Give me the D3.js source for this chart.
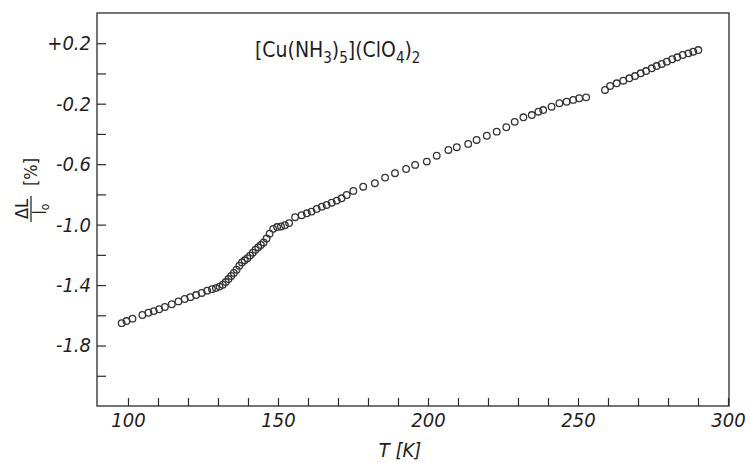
<!DOCTYPE html>
<html lang="en">
<head>
<meta charset="UTF-8">
<title>Cu(NH3)5 dilatometry</title>
<script src="https://cdn.jsdelivr.net/npm/d3@7"></script>
<style>
  body { margin: 0; background: #fff; }
  svg { display: block; }
  .lbl { font-family: "DejaVu Sans Condensed", "Liberation Sans Narrow", "Liberation Sans", sans-serif; font-style: italic; fill: #1e1e1e; }
</style>
</head>
<body>
<svg width="750" height="463"></svg>
<script>
// temperature [K] and relative length change [%]
var tempK = [97.9, 99.5, 101.5, 104.8, 106.8, 108.6, 110.4, 112.3, 114.6, 116.8, 118.9, 120.8, 122.7, 124.6,
  126.4, 128.0, 129.3, 130.5, 131.6, 132.6, 133.5, 134.4, 135.3, 136.2, 137.1, 138.0, 138.9, 139.8, 140.7,
  141.6, 142.5, 143.4, 144.3, 145.2, 146.2, 147.2, 148.4, 149.7, 151.0, 152.3, 153.7, 155.7, 157.9, 159.6,
  161.2, 162.9, 164.6, 166.2, 167.9, 169.6, 171.2, 172.9, 175.1, 178.4, 182.3, 185.7, 189.0, 192.7, 195.7,
  199.6, 202.9, 206.8, 209.6, 213.4, 216.2, 219.6, 222.9, 226.1, 228.9, 231.8, 234.6, 236.8, 238.4, 241.2,
  243.8, 246.2, 248.4, 250.4, 252.7, 259.0, 260.7, 262.9, 265.1, 267.1, 269.0, 270.9, 272.7, 274.6, 276.2,
  277.9, 279.6, 281.4, 283.1, 284.9, 286.8, 288.4, 290.1];
var dLpct = [-1.652, -1.638, -1.622, -1.598, -1.583, -1.572, -1.560, -1.545, -1.527, -1.508, -1.492, -1.480, -1.466, -1.452,
  -1.437, -1.427, -1.420, -1.410, -1.398, -1.380, -1.360, -1.340, -1.320, -1.298, -1.272, -1.250, -1.236, -1.222, -1.205,
  -1.186, -1.166, -1.150, -1.135, -1.118, -1.092, -1.060, -1.028, -1.016, -1.012, -1.004, -0.990, -0.951, -0.938, -0.925,
  -0.914, -0.896, -0.881, -0.870, -0.855, -0.841, -0.826, -0.804, -0.777, -0.749, -0.726, -0.689, -0.660, -0.632, -0.605,
  -0.583, -0.544, -0.506, -0.488, -0.466, -0.440, -0.412, -0.385, -0.356, -0.320, -0.290, -0.275, -0.253, -0.242, -0.220,
  -0.197, -0.187, -0.175, -0.164, -0.158, -0.109, -0.083, -0.065, -0.048, -0.032, -0.017, 0.001, 0.016, 0.034, 0.049,
  0.063, 0.078, 0.094, 0.107, 0.122, 0.133, 0.144, 0.155];

var xTicks = [100, 110, 120, 130, 140, 150, 160, 170, 180, 190, 200, 210, 220, 230, 240, 250, 260, 270, 280, 290, 300];
var xLabels = [100, 150, 200, 250, 300];
var yTicks = [0.2, 0, -0.2, -0.4, -0.6, -0.8, -1.0, -1.2, -1.4, -1.6, -1.8, -2.0];
var yLabels = ["+0.2", "-0.2", "-0.6", "-1.0", "-1.4", "-1.8"];

var svg = d3.select("svg");
var pLeft = 97, pRight = 729, pTop = 13, pBottom = 406;

var x = d3.scaleLinear().domain([89.67, 300.33]).range([pLeft, pRight]);
var y = d3.scaleLinear().domain([-2.2, 0.4]).range([pBottom, pTop]);

var ink = "#2a2a2a";

// frame
svg.append("rect")
  .attr("x", pLeft).attr("y", pTop)
  .attr("width", pRight - pLeft).attr("height", pBottom - pTop)
  .attr("fill", "none").attr("stroke", ink).attr("stroke-width", 1.3);

// x axis, ticks pointing inward
var xAxis = d3.axisBottom(x)
  .tickValues(xTicks)
  .tickSizeInner(-8).tickSizeOuter(0).tickPadding(7)
  .tickFormat(function(d){ return xLabels.indexOf(d) >= 0 ? d : ""; });
var gx = svg.append("g").attr("transform", "translate(0," + pBottom + ")").call(xAxis);
gx.select(".domain").remove();
gx.selectAll("line").attr("stroke", ink).attr("stroke-width", 1.2);
gx.selectAll("text").attr("class", "lbl").style("font-size", "20px").attr("fill", "#1e1e1e");

// y axis
var yAxis = d3.axisLeft(y)
  .tickValues(yTicks)
  .tickSizeInner(-9).tickSizeOuter(0).tickPadding(6)
  .tickFormat(function(d){
    var s = (d > 0 ? "+" : d < 0 ? "-" : "") + Math.abs(d).toFixed(1);
    return yLabels.indexOf(s) >= 0 ? s : "";
  });
var gy = svg.append("g").attr("transform", "translate(" + pLeft + ",0)").call(yAxis);
gy.select(".domain").remove();
gy.selectAll("line").attr("stroke", ink).attr("stroke-width", 1.2);
gy.selectAll("text").attr("class", "lbl").style("font-size", "20px").attr("fill", "#1e1e1e");

// data points
svg.append("g").selectAll("circle")
  .data(tempK)
  .join("circle")
  .attr("cx", function(d){ return x(d); })
  .attr("cy", function(d, i){ return y(dLpct[i]); })
  .attr("r", 3.3)
  .attr("fill", "none")
  .attr("stroke", "#333")
  .attr("stroke-width", 1.3);

// compound label
var title = svg.append("text").attr("class", "lbl")
  .attr("x", 255).attr("y", 57)
  .style("font-size", "21px").style("font-style", "normal");
var parts = [["[Cu(NH", 0], ["3", 1], [")", 0], ["5", 1], ["](ClO", 0], ["4", 1], [")", 0], ["2", 1]];
parts.forEach(function(p, i){
  var t = title.append("tspan").text(p[0]);
  if (p[1]) t.attr("dy", 6).style("font-size", "15px");
  else if (i > 0) t.attr("dy", -6);
});

// x axis title
svg.append("text").attr("class", "lbl")
  .attr("x", 400).attr("y", 457)
  .attr("text-anchor", "middle")
  .style("font-size", "20px")
  .text("T [K]");

// y axis title: fraction ΔL / l0 [%]
var yt = svg.append("g").attr("transform", "rotate(-90)");
yt.append("text").attr("class", "lbl")
  .attr("x", -209).attr("y", 28).attr("text-anchor", "middle")
  .style("font-size", "18px").style("font-style", "normal")
  .text("ΔL");
yt.append("line")
  .attr("x1", -222).attr("x2", -196).attr("y1", 31).attr("y2", 31)
  .attr("stroke", ink).attr("stroke-width", 1.3);
var den = yt.append("text").attr("class", "lbl")
  .attr("x", -209).attr("y", 46).attr("text-anchor", "middle")
  .style("font-size", "17px").style("font-style", "normal");
den.append("tspan").text("l");
den.append("tspan").attr("dy", 3).style("font-size", "12px").text("o");
yt.append("text").attr("class", "lbl")
  .attr("x", -172).attr("y", 37).attr("text-anchor", "middle")
  .style("font-size", "18px").style("font-style", "normal")
  .text("[%]");
</script>
</body>
</html>
